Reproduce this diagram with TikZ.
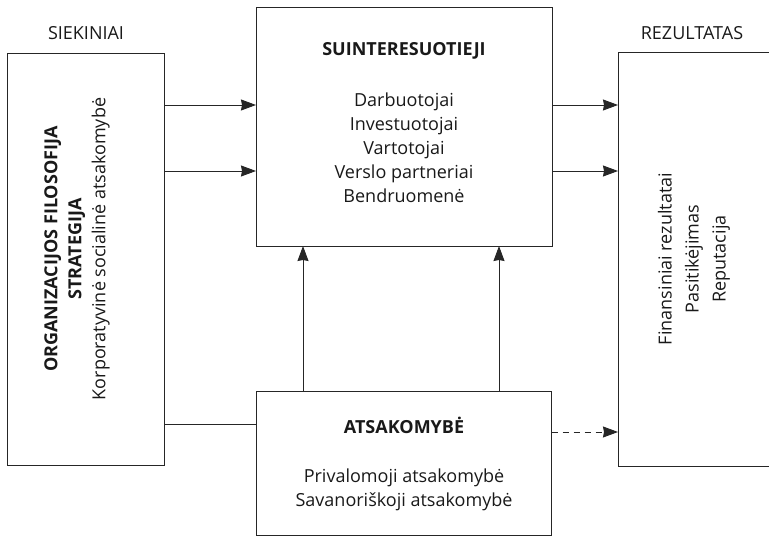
\documentclass[tikz,border=0pt]{standalone}
\usepackage{fontspec}
\setmainfont{Open Sans}
\usetikzlibrary{arrows.meta,positioning}

\begin{document}
\begin{tikzpicture}[x=1pt,y=-1pt,line width=0.9pt,>={Stealth[length=15pt,width=11pt,inset=1pt]},font=\fontsize{18}{24}\selectfont]
  \tikzstyle{box}=[draw=black!85,inner sep=0pt,outer sep=0pt]
  \tikzstyle{txt}=[align=center,text=black!90,inner sep=0pt]

  \useasboundingbox (0,0) rectangle (769,537);

  \node[box,minimum width=296pt,minimum height=239pt] (stake) at (404,126.5) {};
  \node[box,minimum width=295pt,minimum height=144pt] (resp) [below=145pt of stake] {};
  \node[box,minimum width=157pt,minimum height=412pt] (goals) [below left=46pt and 92pt of stake.north west] {};
  \node[box,minimum width=156pt,minimum height=414pt] (result) [below right=45pt and 66pt of stake.north east] {};

  \node[txt,anchor=base] (goalshead) at (86,40) {SIEKINIAI};
  \node[txt,anchor=base] (resulthead) at (692,40) {REZULTATAS};
  \node[txt] (stakelist) at (404,122.5) {\textbf{SUINTERESUOTIEJI}\\[27pt]Darbuotojai\\Investuotojai\\Vartotojai\\Verslo partneriai\\Bendruomenė};
  \node[txt] (resplist) at (404,463.5) {\textbf{ATSAKOMYBĖ}\\[25pt]Privalomoji atsakomybė\\Savanoriškoji atsakomybė};
  \node[txt,rotate=90] (goalslist) at (77,249) {\textbf{ORGANIZACIJOS FILOSOFIJA}\\\textbf{STRATEGIJA}\\Korporatyvinė socialinė atsakomybė};
  \node[txt,rotate=90,font=\fontsize{18}{27}\selectfont] (resultlist) at (694,259) {Finansiniai rezultatai\\Pasitikėjimas\\Reputacija};

  \coordinate (in1) at ([yshift=-52pt]goals.north east);
  \coordinate (in2) at ([yshift=-118pt]goals.north east);
  \coordinate (out1) at ([yshift=-98pt]stake.north east);
  \coordinate (out2) at ([yshift=-164pt]stake.north east);
  \coordinate (up1) at ([xshift=-101pt]resp.north);
  \coordinate (up2) at ([xshift=95pt]resp.north);
  \coordinate (base) at ([yshift=-33pt]resp.north west);
  \coordinate (hint) at ([yshift=-41pt]resp.north east);

\path[->,black!85]
(in1) edge (in1 -| stake.west)
(in2) edge (in2 -| stake.west)
(out1) edge (out1 -| result.west)
(out2) edge (out2 -| result.west)
(up1) edge (up1 |- stake.south)
(up2) edge (up2 |- stake.south);
\draw[black!85] (base) -- (base -| goals.east);
\draw[->,black!85,dash pattern=on 6pt off 5pt] (hint) -- (hint -| result.west);
\end{tikzpicture}
\end{document}
